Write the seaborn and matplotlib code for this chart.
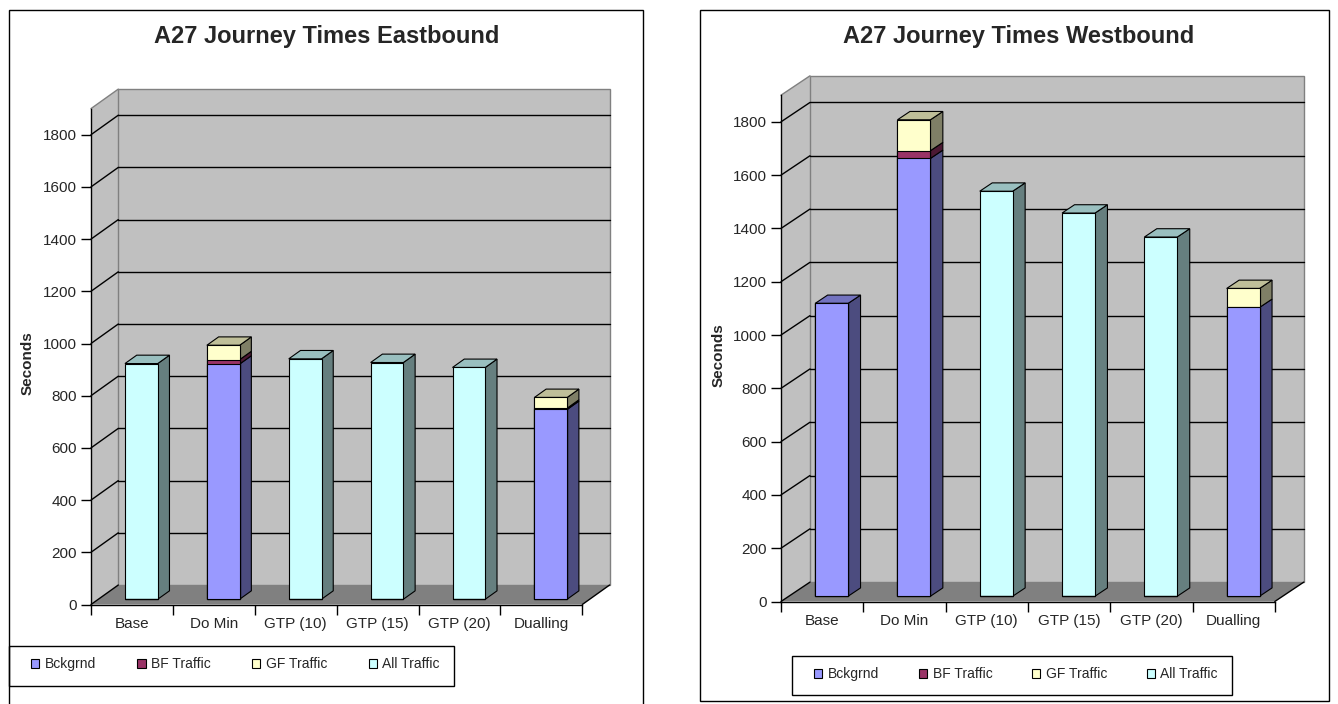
import numpy as np
import pandas as pd
import matplotlib
matplotlib.use("Agg")
import matplotlib.pyplot as plt
from matplotlib.patches import Polygon, Rectangle, Patch
import seaborn as sns

# ---- data -------------------------------------------------------------
scenarios = ["Base", "Do Min", "GTP (10)", "GTP (15)", "GTP (20)", "Dualling"]
series_names = ["Bckgrnd", "BF Traffic", "GF Traffic", "All Traffic"]

east_bckgrnd = [0, 901, 0, 0, 0, 727]
east_bf = [0, 17, 0, 0, 0, 5]
east_gf = [0, 55, 0, 0, 0, 41]
east_all = [903, 0, 921, 907, 888, 0]

west_bckgrnd = [1099, 1643, 0, 0, 0, 1084]
west_bf = [0, 29, 0, 0, 0, 0]
west_gf = [0, 116, 0, 0, 0, 71]
west_all = [0, 0, 1520, 1438, 1348, 0]

y_ticks = [0, 200, 400, 600, 800, 1000, 1200, 1400, 1600, 1800]
Y_MAX = 1900

# ---- styling ----------------------------------------------------------
FRONT = ["#9999FF", "#993366", "#FFFFCC", "#CCFFFF"]
SIDE = ["#4C4C7F", "#4C1933", "#7F7F66", "#667F7F"]
TOP = ["#7373BF", "#73264C", "#BFBF99", "#99BFBF"]
WALL = "#C0C0C0"
FLOOR = "#808080"
EDGE_GRAY = "#808080"

sns.set_style("white")
plt.rcParams["font.family"] = ["Liberation Sans", "DejaVu Sans"]

FIG_W, FIG_H = 1338, 704
fig = plt.figure(figsize=(FIG_W / 100, FIG_H / 100), dpi=100)
fig.patch.set_facecolor("white")


def fx(px):
    return px / FIG_W


def fy(py):
    return 1 - py / FIG_H


BAR_WIDTH = 0.4
BAR_SHIFT = 0.115      # bars sit a little behind the front plane
LIFT_FRAC = 0.27       # front face of the bars, as a share of the floor depth
BAR_DEPTH_FRAC = 0.43  # bar thickness, as a share of the floor depth


def draw_panel(box, depth_px, title, title_xy, ylabel_xy, frame, legend_inner,
               legend_frame, layers):
    left, top, right, bottom = box
    ax = fig.add_axes([fx(left), fy(bottom), fx(right - left), (bottom - top) / FIG_H])
    ax.patch.set_alpha(0)

    n = len(scenarios)
    x_per_px = n / (right - left)
    y_per_px = Y_MAX / (bottom - top)
    ddx = depth_px[0] * x_per_px
    ddy = depth_px[1] * y_per_px
    x0, x1 = -0.5, n - 0.5

    # walls and floor
    ax.add_patch(Polygon([(x0, 0), (x0 + ddx, ddy), (x0 + ddx, Y_MAX + ddy), (x0, Y_MAX)],
                         closed=True, fc=WALL, ec="none", zorder=0, clip_on=False))
    ax.add_patch(Rectangle((x0 + ddx, ddy), n, Y_MAX, fc=WALL, ec=EDGE_GRAY, lw=1,
                           zorder=0, clip_on=False))
    ax.plot([x0, x0 + ddx], [Y_MAX, Y_MAX + ddy], color=EDGE_GRAY, lw=1, clip_on=False, zorder=1)
    for v in y_ticks[1:]:
        ax.plot([x0 + ddx, x1 + ddx], [v + ddy, v + ddy], color="black", lw=1,
                clip_on=False, zorder=1)
        ax.plot([x0, x0 + ddx], [v, v + ddy], color="black", lw=1, clip_on=False, zorder=1)
    ax.add_patch(Polygon([(x0, 0), (x1, 0), (x1 + ddx, ddy), (x0 + ddx, ddy)],
                         closed=True, fc=FLOOR, ec="none", zorder=1, clip_on=False))
    ax.plot([x0, x0 + ddx], [0, ddy], color="black", lw=1, clip_on=False, zorder=2)
    ax.plot([x1, x1 + ddx], [0, ddy], color="black", lw=1, clip_on=False, zorder=2)

    # stacked bars
    values = np.array(layers, dtype=float)
    cum = np.cumsum(values, axis=0)
    base = np.vstack([np.zeros(n), cum[:-1]])
    pos = np.arange(n) + BAR_SHIFT
    lift = LIFT_FRAC * ddy
    sdx = BAR_DEPTH_FRAC * ddx
    sdy = BAR_DEPTH_FRAC * ddy

    for i in range(n):
        xl, xr = pos[i] - BAR_WIDTH / 2, pos[i] + BAR_WIDTH / 2
        top_k = None
        for k in range(len(values)):
            if values[k, i] <= 0:
                continue
            top_k = k
            lo, hi = lift + base[k, i], lift + cum[k, i]
            ax.add_patch(Polygon([(xr, lo), (xr + sdx, lo + sdy), (xr + sdx, hi + sdy), (xr, hi)],
                                 closed=True, fc=SIDE[k], ec="black", lw=0.8, zorder=3))
        if top_k is not None:
            h = lift + cum[-1, i]
            ax.add_patch(Polygon([(xl, h), (xl + sdx, h + sdy), (xr + sdx, h + sdy), (xr, h)],
                                 closed=True, fc=TOP[top_k], ec="black", lw=0.8, zorder=3))

    # front faces: cumulative totals drawn from the top series down
    for k in range(len(values) - 1, -1, -1):
        df = pd.DataFrame({"pos": pos, "total": cum[k]})
        sns.barplot(data=df, x="pos", y="total", native_scale=True, width=BAR_WIDTH,
                    color=FRONT[k], saturation=1, errorbar=None, edgecolor="black",
                    linewidth=0.8, bottom=lift, zorder=4, ax=ax)

    # axes
    ax.set_xlim(x0, x1)
    ax.set_ylim(0, Y_MAX)
    ax.set_xlabel("")
    ax.set_ylabel("")
    for s in ["top", "right"]:
        ax.spines[s].set_visible(False)
    for s in ["left", "bottom"]:
        ax.spines[s].set_color("black")
        ax.spines[s].set_linewidth(1)
        ax.spines[s].set_zorder(5)
    ax.set_yticks(y_ticks)
    ax.set_yticklabels([str(v) for v in y_ticks])
    ax.tick_params(axis="y", direction="out", length=7, width=1, pad=3,
                   labelsize=11, color="black", left=True)
    ax.set_xticks(np.arange(x0, x1 + 0.01, 1.0))
    ax.set_xticklabels([""] * (n + 1))
    ax.set_xticks(np.arange(n), labels=scenarios, minor=True)
    ax.tick_params(axis="x", which="major", direction="out", length=7, width=1,
                   color="black", bottom=True)
    ax.tick_params(axis="x", which="minor", length=0, pad=9, labelsize=11, bottom=True)
    ax.grid(False)

    # texts
    fig.text(fx(title_xy[0]), fy(title_xy[1]), title, ha="center", va="center",
             fontsize=17, fontweight="bold")
    fig.text(fx(ylabel_xy[0]), fy(ylabel_xy[1]), "Seconds", ha="center", va="center",
             rotation=90, fontsize=11, fontweight="bold")

    # panel frame
    fl, ft, fr, fb = frame
    fig.add_artist(Rectangle((fx(fl), fy(fb)), fx(fr - fl), (fb - ft) / FIG_H,
                             transform=fig.transFigure, fill=False, ec="black", lw=1))

    # legend
    ll, lt, lr, lb = legend_frame
    fig.add_artist(Rectangle((fx(ll), fy(lb)), fx(lr - ll), (lb - lt) / FIG_H,
                             transform=fig.transFigure, fill=False, ec="black", lw=1))
    il, ir, iy = legend_inner
    handles = [Patch(fc=FRONT[k], ec="black", lw=0.8, label=series_names[k])
               for k in range(len(series_names))]
    ax.legend(handles=handles, loc="center", ncol=4, mode="expand",
              bbox_to_anchor=(fx(il), fy(iy) - 0.02, fx(ir - il), 0.04),
              bbox_transform=fig.transFigure, frameon=False, fontsize=10,
              handlelength=0.6, handleheight=0.6, handletextpad=0.4,
              borderpad=0, borderaxespad=0)
    return ax


draw_panel(box=(91, 108.6, 582.3, 604.5), depth_px=(27.3, 19.5),
           title="A27 Journey Times Eastbound", title_xy=(327, 37),
           ylabel_xy=(27.6, 363), frame=(9.4, 9.9, 643, 720),
           legend_inner=(31, 440, 664), legend_frame=(9.4, 646, 453.7, 686),
           layers=[east_bckgrnd, east_bf, east_gf, east_all])

draw_panel(box=(781, 95.2, 1274.8, 601.5), depth_px=(29, 19.4),
           title="A27 Journey Times Westbound", title_xy=(1019, 36),
           ylabel_xy=(718.6, 355), frame=(699.7, 9.9, 1329, 700.8),
           legend_inner=(814, 1218, 674), legend_frame=(792, 656, 1232, 695),
           layers=[west_bckgrnd, west_bf, west_gf, west_all])

fig.savefig("out.png", dpi=100, facecolor="white")
